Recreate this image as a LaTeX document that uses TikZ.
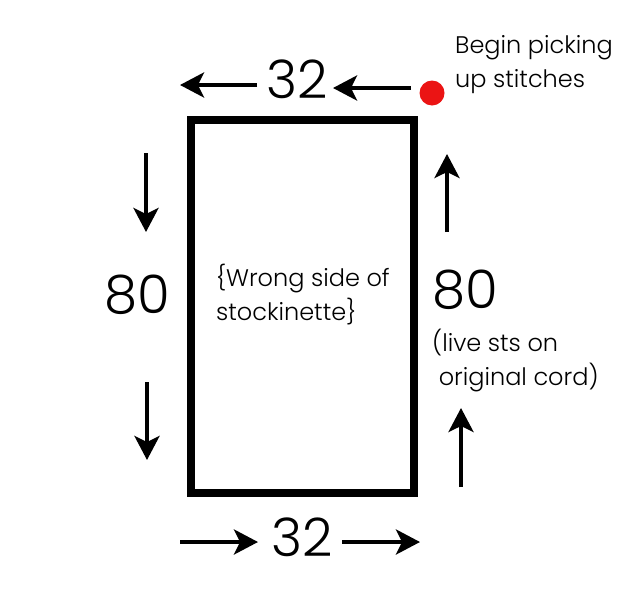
\documentclass[tikz,border=0pt]{standalone}
\usepackage{fontspec}
\setmainfont{Poppins Light}
\usetikzlibrary{arrows.meta}
\definecolor{dotred}{RGB}{235,20,20}
\tikzset{
  lbl/.style={inner sep=0pt, font=\fontsize{24}{34}\selectfont, align=left},
  num/.style={inner sep=0pt, font=\fontsize{53}{60}\selectfont},
  arr/.style={line width=4pt, -{Stealth[length=24pt,width=25pt,inset=6pt]}},
}
\begin{document}
\begin{tikzpicture}[x=1pt,y=-1pt]
\useasboundingbox (0,0) rectangle (628,600);
\draw[line width=7.5pt] (191,120) rectangle (414,493);
% top
\node[num] (t32) at (297,79) {32};
\coordinate (ta1) at (257,85); \coordinate (ta2) at (180,85);
\coordinate (ta3) at (411,88); \coordinate (ta4) at (333,88);
\draw[arr] (ta1) -- (ta2);
\draw[arr] (ta3) -- (ta4);
\node[circle, fill=dotred, minimum size=25pt, inner sep=0pt] (dot) at (432,93) {};
\node[lbl, anchor=west] (begin) at (455,65) {Begin picking\\up stitches};
% left
\node[num] (l80) at (137,295) {80};
\coordinate (la1) at (146,153); \coordinate (la2) at (146,232);
\coordinate (la3) at (147,382); \coordinate (la4) at (147,460);
\draw[arr] (la1) -- (la2);
\draw[arr] (la3) -- (la4);
% right
\node[num] (r80) at (465,290) {80};
\node[lbl, anchor=north west] (live) at (432,329) {(live sts on\\\ original cord)};
\coordinate (ra1) at (447,232); \coordinate (ra2) at (447,154);
\coordinate (ra3) at (461,487); \coordinate (ra4) at (461,408);
\draw[arr] (ra1) -- (ra2);
\draw[arr] (ra3) -- (ra4);
% inside
\node[lbl, anchor=north west] (inside) at (216,264) {\{Wrong side of\\stockinette\}};
% bottom
\node[num] (b32) at (302,537) {32};
\coordinate (ba1) at (180,542); \coordinate (ba2) at (258,542);
\coordinate (ba3) at (342,542); \coordinate (ba4) at (420,542);
\draw[arr] (ba1) -- (ba2);
\draw[arr] (ba3) -- (ba4);
\end{tikzpicture}
\end{document}
